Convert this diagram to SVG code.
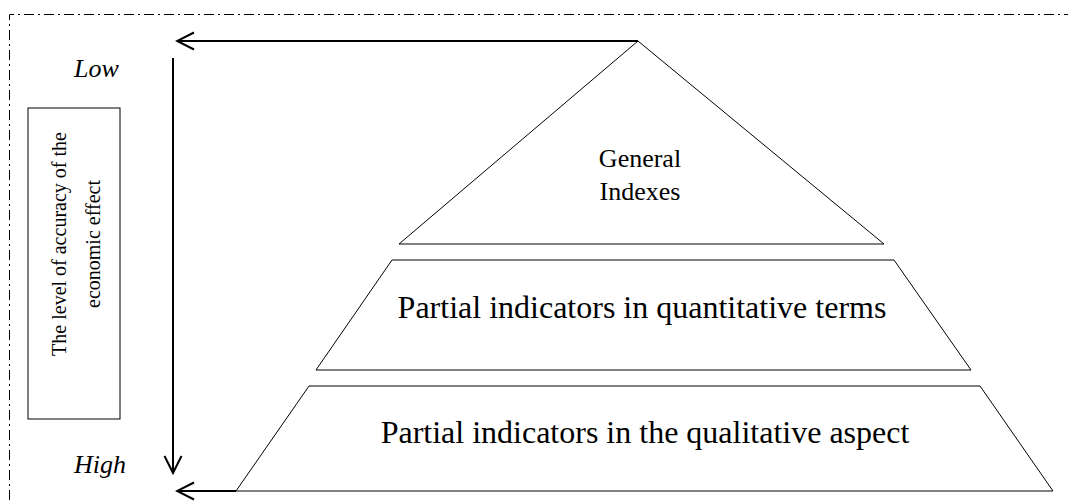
<svg xmlns="http://www.w3.org/2000/svg" width="1068" height="502" viewBox="0 0 1068 502">
<style>
.shape{fill:#fff;stroke:#000;stroke-width:1}
.arr{fill:none;stroke:#000;stroke-width:2}
.t{font-family:"Liberation Serif","Times New Roman",serif;fill:#000}
.it{font-style:italic}
</style>
<defs>
<marker id="ah" viewBox="0 0 20 20" refX="18" refY="10" markerWidth="20" markerHeight="20" markerUnits="userSpaceOnUse" orient="auto">
<path d="M1,1.5 L18,10 L1,18.5" fill="none" stroke="#000" stroke-width="2"/>
</marker>
</defs>
<rect width="1068" height="502" fill="#fff"/>
<g id="frame">
<path d="M9.5,520 L9.5,14.5 L1080,14.5" fill="none" stroke="#000" stroke-width="1" stroke-dasharray="10 4 2 4"/>
</g>
<g id="top-level">
<polygon class="shape" points="638,41 399,244 884,244"/>
<text class="t" x="640" y="167" font-size="26" text-anchor="middle">General</text>
<text class="t" x="640" y="200" font-size="26" text-anchor="middle">Indexes</text>
</g>
<g id="middle-level">
<polygon class="shape" points="392,260 894,260 971,370 316,370"/>
<text class="t" x="642" y="318" font-size="32" text-anchor="middle">Partial indicators in quantitative terms</text>
</g>
<g id="bottom-level">
<polygon class="shape" points="309,386 980,386 1053,491 236,491"/>
<text class="t" x="645" y="443" font-size="32" text-anchor="middle">Partial indicators in the qualitative aspect</text>
</g>
<g id="axis-label">
<rect class="shape" x="28" y="108" width="92" height="311"/>
<text class="t" font-size="20" text-anchor="middle" transform="translate(66,244) rotate(-90)">The level of accuracy of the</text>
<text class="t" font-size="20" text-anchor="middle" transform="translate(100,244) rotate(-90)">economic effect</text>
</g>
<g id="low-label">
<text class="t it" x="74" y="77" font-size="26">Low</text>
</g>
<g id="high-label">
<text class="t it" x="74" y="473" font-size="26">High</text>
</g>
<g id="connectors">
<line class="arr" x1="638" y1="41" x2="177" y2="41" marker-end="url(#ah)"/>
<line class="arr" x1="236" y1="491" x2="177" y2="491" marker-end="url(#ah)"/>
<line class="arr" x1="173" y1="58" x2="173" y2="473" marker-end="url(#ah)"/>
</g>
</svg>
